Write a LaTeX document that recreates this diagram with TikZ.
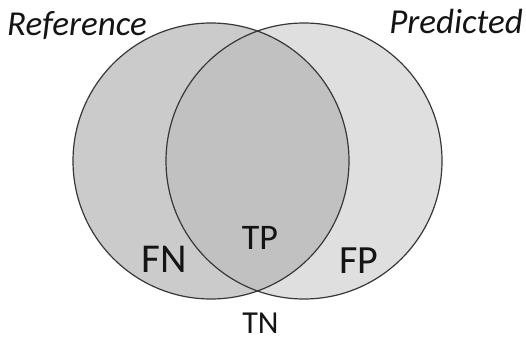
\documentclass[tikz,border=0pt]{standalone}
\usepackage{fontspec}
\setmainfont{Carlito}
\definecolor{refgray}{RGB}{203,203,203}
\definecolor{predgray}{RGB}{223,223,223}
\definecolor{bothgray}{RGB}{193,193,193}
\definecolor{rimgray}{RGB}{55,55,55}
\begin{document}
\begin{tikzpicture}[x=1pt,y=-1pt,
  rim/.style={draw=rimgray,line width=1.2pt},
  setname/.style={anchor=base,font=\fontsize{35}{35}\selectfont\itshape,text=black!92},
  cell/.style={anchor=base,text=black!92}]
\useasboundingbox (0,0) rectangle (526,340);
% the two sets
\coordinate (refc) at (211,161);
\coordinate (predc) at (304,161);
\fill[refgray] (refc) circle[radius=138pt];
\fill[predgray] (predc) circle[radius=138pt];
\begin{scope}
  \clip (refc) circle[radius=138pt];
  \fill[bothgray] (predc) circle[radius=138pt];
\end{scope}
\draw[rim] (refc) circle[radius=138pt];
\draw[rim] (predc) circle[radius=138pt];
% set names
\node[setname] (ref) at (77,35) {Reference};
\node[setname] (pred) at (456,33) {Predicted};
% confusion cells
\node[cell,font=\fontsize{41}{41}\selectfont] (fn) at (164,272) {FN};
\node[cell,font=\fontsize{40}{40}\selectfont] (fp) at (359,273) {FP};
\node[cell,font=\fontsize{36}{36}\selectfont] (tp) at (260,249) {TP};
\node[cell,font=\fontsize{32}{32}\selectfont] (tn) at (260.5,333) {TN};
\end{tikzpicture}
\end{document}
